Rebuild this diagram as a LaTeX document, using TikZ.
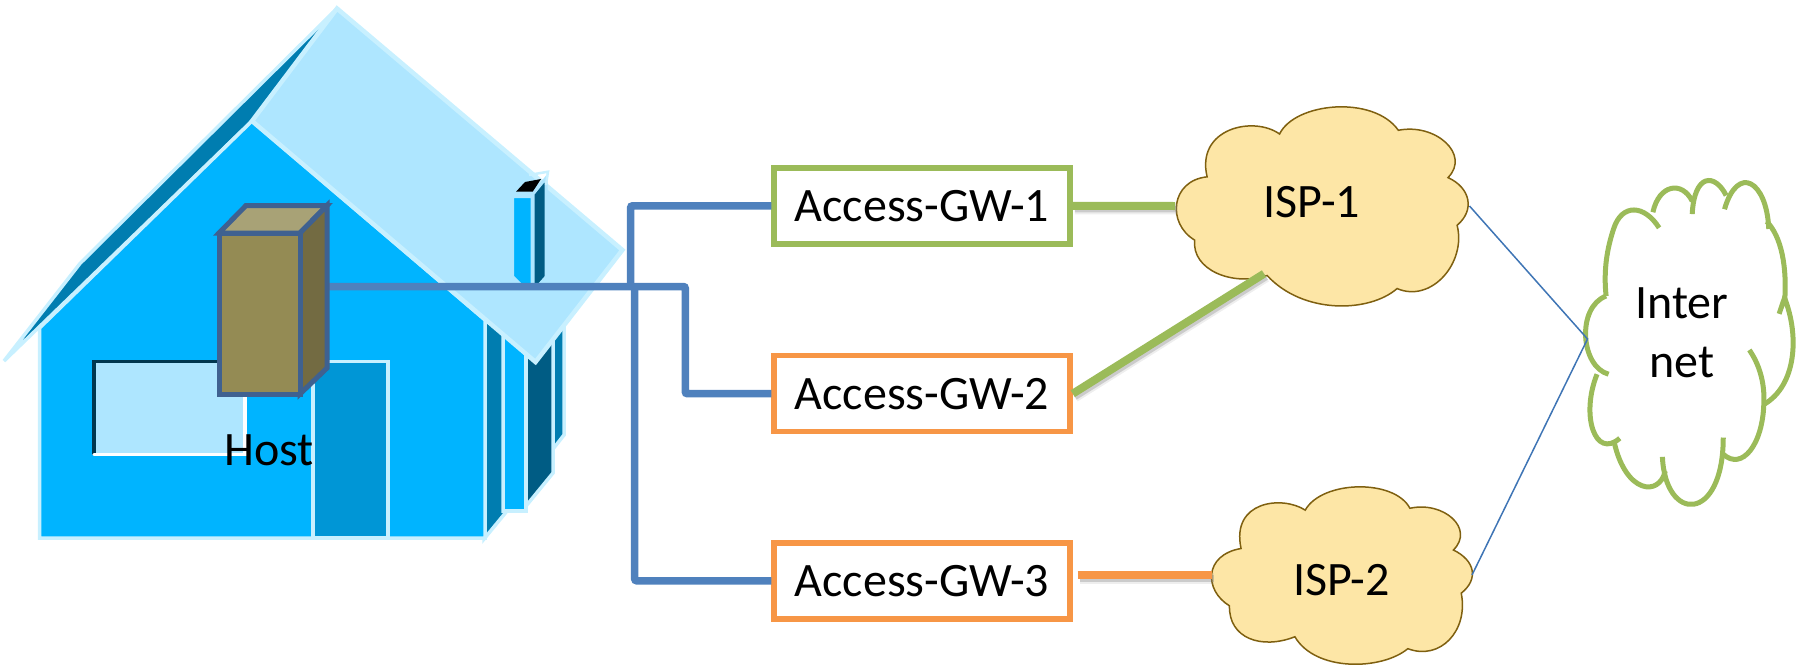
\documentclass[tikz,border=0pt]{standalone}
\usepackage{fontspec}
\setmainfont{Carlito}
\usetikzlibrary{calc}
\definecolor{wall}{HTML}{00B4FF}
\definecolor{edge}{HTML}{C8F0FF}
\definecolor{rooflight}{HTML}{AEE6FF}
\definecolor{sidedark}{HTML}{007DB0}
\definecolor{sidedeep}{HTML}{005C84}
\definecolor{doorc}{HTML}{0096D6}
\definecolor{srvfront}{HTML}{948B54}
\definecolor{srvtop}{HTML}{A8A276}
\definecolor{srvside}{HTML}{736B42}
\definecolor{srvedge}{HTML}{3F6190}
\definecolor{linkblue}{HTML}{4F81BD}
\definecolor{thinblue}{HTML}{3F75B5}
\definecolor{gwgreen}{HTML}{9BBB59}
\definecolor{gworange}{HTML}{F79646}
\definecolor{cloudfill}{HTML}{FDE6A6}
\definecolor{cloudedge}{HTML}{7F6010}
\tikzset{
  housepart/.style={draw=edge,line width=3.5pt,line join=miter},
  gwbox/.style={draw,fill=white,line width=5.5pt,minimum width=296pt,minimum height=76pt,inner sep=0pt,text height=31.8pt,text depth=0pt,font=\fontsize{48}{58}\selectfont},
  label/.style={anchor=base,inner sep=0pt,font=\fontsize{48}{58}\selectfont},
  bluelink/.style={draw=linkblue,line width=7.5pt,rounded corners=2pt},
  thinlink/.style={draw=thinblue,line width=1.5pt},
  shadowed/.style={line width=8pt,
    preaction={draw=black!45,opacity=.15,line width=11pt,transform canvas={shift={(2pt,-3pt)}}},
    preaction={draw=black!55,opacity=.28,line width=7pt,transform canvas={shift={(2pt,-3pt)}}}},
  ispcloud/.style={draw=cloudedge,fill=cloudfill,line width=1.5pt,line join=miter},
  netarc/.style={draw=gwgreen,line width=5pt,line cap=butt}
}
\begin{document}
\begin{tikzpicture}[x=1pt,y=-1pt]
\useasboundingbox (0,0) rectangle (1799,664);
% far right side of the house
\draw[housepart,fill=sidedark] (553,300) -- (564,300) -- (564,435) -- (553,449) -- cycle;
% dark right side
\draw[housepart,fill=sidedeep] (526,300) -- (553,300) -- (553,473) -- (526,506) -- cycle;
% bright front panel
\draw[housepart,fill=wall] (503,300) -- (526,300) -- (526,511) -- (503,511) -- cycle;
\draw[housepart,fill=sidedark] (484,300) -- (503,320) -- (503,511) -- (507,511) -- (484,539) -- cycle;
% back roof edge
\draw[housepart,fill=sidedark] (4,361) -- (80,263.5) -- (337,8.5) -- (252,121) -- cycle;
% wall
\draw[housepart,fill=wall] (39.6,538) -- (485,538) -- (485,320) -- (252,121) -- (39.6,328) -- cycle;
% window
\fill[rooflight] (94,361.5) rectangle (245,454.7);
\draw[draw=sidedeep!60!black,line width=3.5pt] (94,454.7) -- (94,361.5) -- (245,361.5);
\draw[draw=white,line width=3.5pt,line cap=round] (94,454.7) -- (245,454.7) -- (245,361.5);
% door
\draw[draw=edge,line width=3.5pt,fill=doorc] (313,538) rectangle (388,361.5);
% roof plane
\draw[draw=edge,line width=4.5pt,fill=rooflight,line join=miter] (337,8.5) -- (622.4,250) -- (535.5,362) -- (252,121) -- cycle;
% chimney
\draw[draw=rooflight,line width=3pt,fill=wall] (512.7,196.7) -- (532,196.7) -- (532,286) -- (522,286) -- (512.7,276.7) -- cycle;
\draw[draw=rooflight,line width=3pt,fill=sidedeep] (533,194) -- (546,178) -- (546,277) -- (538,286) -- (533,286) -- cycle;
\fill[black] (516,191.7) -- (525,182) -- (541,179) -- (532.7,191.7) -- cycle;
\draw[draw=edge,line width=2.5pt] (529,175) -- (548,171.7) -- (546,185);
% server box coordinates
\coordinate (srvport) at (327,286.5);
\coordinate (junction) at (630.6,286.5);
\coordinate (junctionb) at (634.7,286.5);
\coordinate (elbow) at (685.3,286.5);
% gateways
\node[gwbox,draw=gwgreen] (gw1) at (922,205.8) {Access-GW-1};
\node[gwbox,draw=gworange] (gw2) at (922,393.7) {Access-GW-2};
\node[gwbox,draw=gworange] (gw3) at (922,580.8) {Access-GW-3};
% blue links
\draw[bluelink] (srvport) -- (elbow) -- (elbow |- gw2.west) -- (gw2.west);
\draw[bluelink] (junction) -- (junction |- gw1.west) -- (gw1.west);
\draw[bluelink] (junctionb) -- (junctionb |- gw3.west) -- (gw3.west);
% server box
\draw[draw=srvedge,line width=5pt,fill=srvtop,line join=miter] (219,233) -- (246,205.5) -- (327,205.5) -- (300,233) -- cycle;
\draw[draw=srvedge,line width=5pt,fill=srvside,line join=miter] (300,233) -- (327,205.5) -- (327,368) -- (300,394) -- cycle;
\draw[draw=srvedge,line width=5pt,fill=srvfront,line join=miter] (219,233) rectangle (300,394);
\node[label] (host) at (269,465) {Host};
% clouds
\begin{scope}[shift={(1150,80)},xscale=.4139,yscale=.3724]
\draw[ispcloud] (313,145) .. controls (350,60) and (540,40) .. (600,135)
 .. controls (690,115) and (775,200) .. (720,262)
 .. controls (775,290) and (785,350) .. (742,390)
 .. controls (765,490) and (680,600) .. (597,560)
 .. controls (530,625) and (370,630) .. (283,525)
 .. controls (200,555) and (100,510) .. (108,430)
 .. controls (40,385) and (50,270) .. (138,260)
 .. controls (110,130) and (250,95) .. (313,145) -- cycle;
\draw[ispcloud] (375,1155) .. controls (415,1075) and (590,1070) .. (628,1150)
 .. controls (710,1130) and (785,1205) .. (733,1262)
 .. controls (785,1290) and (795,1340) .. (752,1378)
 .. controls (770,1480) and (700,1560) .. (623,1527)
 .. controls (560,1585) and (400,1590) .. (350,1495)
 .. controls (270,1530) and (190,1500) .. (192,1412)
 .. controls (130,1370) and (130,1275) .. (220,1258)
 .. controls (195,1130) and (320,1115) .. (375,1155) -- cycle;
% internet cloud
\draw[netarc] (1102,580) .. controls (1030,610) and (1040,770) .. (1108,790);
\draw[netarc] (1080,790) .. controls (1040,900) and (1075,1020) .. (1135,962);
\draw[netarc] (1122,975) .. controls (1150,1110) and (1230,1120) .. (1245,1050);
\draw[netarc] (1238,1012) .. controls (1245,1190) and (1385,1190) .. (1385,960);
\draw[netarc] (1385,1005) .. controls (1430,1050) and (1480,980) .. (1483,870) .. controls (1486,810) and (1470,760) .. (1448,725);
\draw[netarc] (1485,870) .. controls (1560,820) and (1570,690) .. (1533,585) -- (1520,628);
\draw[netarc] (1533,600) .. controls (1540,500) and (1525,420) .. (1490,380);
\draw[netarc] (1495,400) .. controls (1490,270) and (1420,225) .. (1388,347);
\draw[netarc] (1392,310) .. controls (1365,250) and (1315,250) .. (1310,360);
\draw[netarc] (1310,325) .. controls (1285,270) and (1230,280) .. (1215,355);
\draw[netarc] (1230,397) .. controls (1195,335) and (1140,330) .. (1120,400) .. controls (1105,450) and (1095,510) .. (1102,580);
\end{scope}
\node[label] (isp1) at (1312,217) {ISP-1};
\node[label] (isp2) at (1341.6,595) {ISP-2};
\node[label] (inet1) at (1682,318) {Inter};
\node[label] (inet2) at (1682,377) {net};
% connector ends on the clouds
\coordinate (isp1w) at (1175,206);
\coordinate (isp1s) at (1264,273.7);
\coordinate (isp1e) at (1469.5,206);
\coordinate (isp2w) at (1212,575);
\coordinate (isp2e) at (1472,575);
\coordinate (gw3out) at (1077.5,575);
\coordinate (inetw) at (1587.5,339);
\draw[draw=gwgreen,shadowed] (gw1.east) -- (isp1w);
\draw[draw=gwgreen,shadowed] (gw2.east) -- (isp1s);
\draw[draw=gworange,shadowed] (gw3out) -- (isp2w);
\draw[thinlink] (isp1e) -- (inetw) -- (isp2e);
\end{tikzpicture}
\end{document}
